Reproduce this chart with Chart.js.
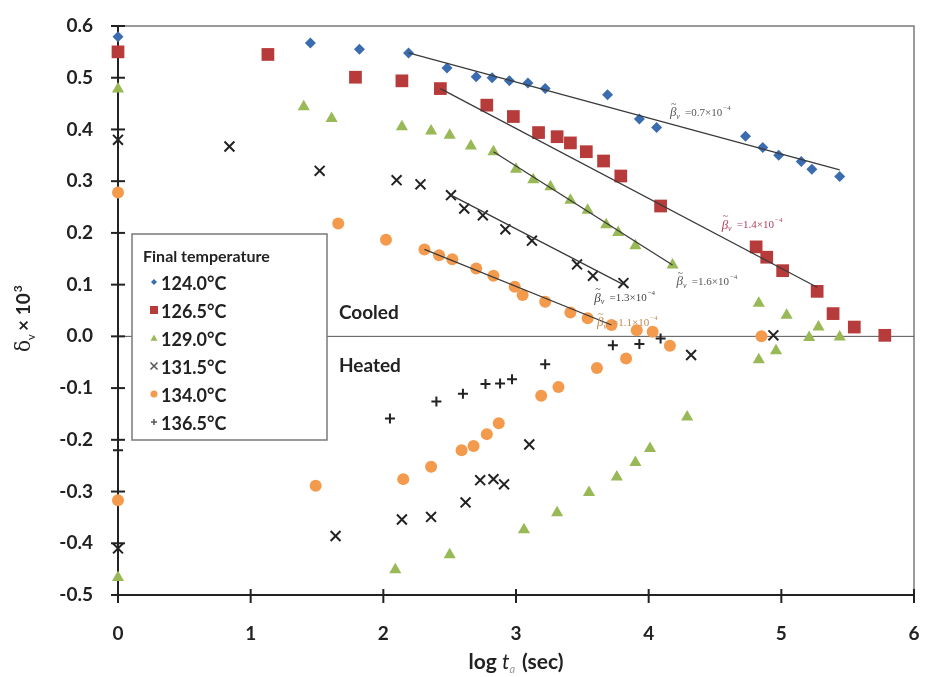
<!DOCTYPE html>
<html>
<head>
<meta charset="utf-8">
<script src="https://cdn.jsdelivr.net/npm/chart.js@4/dist/chart.umd.min.js"></script>
<style>
  body { margin: 0; background: #fff; }
</style>
</head>
<body>
<canvas id="chart" width="925" height="677"></canvas>
<script>
// data: log ta (x) and delta_v x 10^3 (y)
const x124 = [0, 1.45, 1.82, 2.19, 2.48, 2.70, 2.82, 2.95, 3.09, 3.22, 3.69, 3.93, 4.06, 4.73, 4.86, 4.98, 5.15, 5.23, 5.44];
const y124 = [0.579, 0.567, 0.555, 0.548, 0.519, 0.502, 0.500, 0.494, 0.490, 0.479, 0.467, 0.420, 0.404, 0.387, 0.365, 0.350, 0.338, 0.323, 0.309];

const x126 = [0, 1.13, 1.79, 2.14, 2.43, 2.78, 2.98, 3.17, 3.31, 3.41, 3.53, 3.66, 3.79, 4.09, 4.81, 4.89, 5.01, 5.27, 5.39, 5.55, 5.78];
const y126 = [0.550, 0.545, 0.501, 0.494, 0.479, 0.447, 0.425, 0.394, 0.386, 0.374, 0.357, 0.339, 0.310, 0.252, 0.173, 0.153, 0.127, 0.087, 0.044, 0.018, 0.002];

const x129 = [0, 1.40, 1.61, 2.14, 2.36, 2.50, 2.66, 2.83, 3.00, 3.13, 3.26, 3.41, 3.54, 3.68, 3.77, 3.90, 4.18, 4.83, 5.04, 5.28, 5.21, 5.44,
              0, 2.09, 2.50, 3.06, 3.31, 3.55, 3.76, 3.90, 4.01, 4.29, 4.83, 4.96];
const y129 = [0.478, 0.444, 0.421, 0.405, 0.397, 0.389, 0.368, 0.357, 0.323, 0.303, 0.289, 0.263, 0.244, 0.216, 0.201, 0.175, 0.138, 0.064, 0.041, 0.018, -0.002, -0.001,
              -0.466, -0.451, -0.422, -0.374, -0.341, -0.302, -0.272, -0.244, -0.217, -0.156, -0.045, -0.028];

const x131 = [0, 0.84, 1.52, 2.10, 2.28, 2.51, 2.61, 2.75, 2.92, 3.12, 3.46, 3.58, 3.81, 4.94,
              0, 1.64, 2.14, 2.36, 2.62, 2.73, 2.83, 2.91, 3.10, 4.32];
const y131 = [0.380, 0.367, 0.320, 0.302, 0.294, 0.273, 0.247, 0.234, 0.207, 0.185, 0.139, 0.117, 0.103, 0.002,
              -0.410, -0.386, -0.354, -0.349, -0.321, -0.278, -0.276, -0.286, -0.209, -0.036];

const x134 = [0, 1.66, 2.02, 2.31, 2.42, 2.52, 2.70, 2.83, 2.99, 3.05, 3.22, 3.41, 3.54, 3.72, 3.91, 4.03, 4.85,
              0, 1.49, 2.15, 2.36, 2.59, 2.68, 2.78, 2.87, 3.19, 3.32, 3.61, 3.83, 4.16];
const y134 = [0.278, 0.218, 0.187, 0.168, 0.157, 0.149, 0.131, 0.117, 0.096, 0.080, 0.067, 0.046, 0.035, 0.022, 0.012, 0.009, 0.000,
              -0.317, -0.289, -0.276, -0.252, -0.220, -0.212, -0.189, -0.168, -0.115, -0.098, -0.061, -0.043, -0.018];

const x136 = [0, 2.05, 2.40, 2.60, 2.77, 2.88, 2.97, 3.22, 3.73, 3.93, 4.09];
const y136 = [-0.220, -0.159, -0.126, -0.111, -0.092, -0.091, -0.083, -0.054, -0.017, -0.015, -0.004];

// fitted lines (end points)
const fitX124 = [2.19, 5.44], fitY124 = [0.548, 0.322];
const fitX126 = [2.43, 5.27], fitY126 = [0.479, 0.095];
const fitX129 = [2.83, 4.18], fitY129 = [0.357, 0.138];
const fitX131 = [2.51, 3.81], fitY131 = [0.273, 0.100];
const fitX134 = [2.31, 3.72], fitY134 = [0.168, 0.022];

const seriesLabels = ['124.0°C', '126.5°C', '129.0°C', '131.5°C', '134.0°C', '136.5°C'];
const slopeTexts = ['0.7', '1.4', '1.6', '1.3', '1.1'];
const slopeX = [4.16, 4.55, 4.21, 3.59, 3.61];
const slopeY = [0.432, 0.215, 0.105, 0.074, 0.026];

const xTicks = [0, 1, 2, 3, 4, 5, 6];
const yTicks = [0.6, 0.5, 0.4, 0.3, 0.2, 0.1, 0, -0.1, -0.2, -0.3, -0.4, -0.5];

const colors = ['#3b6cb0', '#b83b3b', '#98b955', '#222222', '#f39a4c', '#222222'];
const styles = ['rectRot', 'rect', 'triangle', 'crossRot', 'circle', 'cross'];
const radii = [5.5, 9, 7, 7, 6, 5];
const FONT = 'Lato, "Open Sans", sans-serif';

function pts(xs, ys) {
  return xs.map((x, i) => ({ x: x, y: ys[i] }));
}

const pointSets = [[x124, y124], [x126, y126], [x129, y129], [x131, y131], [x134, y134], [x136, y136]];
const fitSets = [[fitX124, fitY124], [fitX126, fitY126], [fitX129, fitY129], [fitX131, fitY131], [fitX134, fitY134]];

const datasets = [];
fitSets.forEach(f => {
  datasets.push({
    type: 'line',
    data: pts(f[0], f[1]),
    borderColor: '#3a3a3a',
    borderWidth: 1.3,
    pointRadius: 0,
    fill: false
  });
});
pointSets.forEach((s, i) => {
  const isLine = styles[i] === 'crossRot' || styles[i] === 'cross';
  datasets.push({
    label: seriesLabels[i],
    data: pts(s[0], s[1]),
    pointStyle: styles[i],
    pointRadius: radii[i],
    backgroundColor: colors[i],
    borderColor: colors[i],
    borderWidth: isLine ? 2 : 0,
    showLine: false,
    clip: false
  });
});

function drawMarker(ctx, style, x, y, r, color) {
  ctx.save();
  ctx.fillStyle = color;
  ctx.strokeStyle = color;
  ctx.lineWidth = 1.5;
  ctx.beginPath();
  if (style === 'rectRot') {
    ctx.moveTo(x, y - r); ctx.lineTo(x + r, y); ctx.lineTo(x, y + r); ctx.lineTo(x - r, y); ctx.closePath(); ctx.fill();
  } else if (style === 'rect') {
    ctx.rect(x - r, y - r, 2 * r, 2 * r); ctx.fill();
  } else if (style === 'triangle') {
    ctx.moveTo(x, y - r); ctx.lineTo(x + r, y + r * 0.8); ctx.lineTo(x - r, y + r * 0.8); ctx.closePath(); ctx.fill();
  } else if (style === 'crossRot') {
    ctx.moveTo(x - r, y - r); ctx.lineTo(x + r, y + r); ctx.moveTo(x + r, y - r); ctx.lineTo(x - r, y + r); ctx.stroke();
  } else if (style === 'circle') {
    ctx.arc(x, y, r, 0, Math.PI * 2); ctx.fill();
  } else {
    ctx.moveTo(x - r, y); ctx.lineTo(x + r, y); ctx.moveTo(x, y - r); ctx.lineTo(x, y + r); ctx.stroke();
  }
  ctx.restore();
}

const decorPlugin = {
  id: 'decor',
  beforeDatasetsDraw(chart) {
    const { ctx, chartArea: a, scales } = chart;
    const y0 = scales.y.getPixelForValue(0);
    ctx.save();
    // frame top/right
    ctx.strokeStyle = '#7a7a7a';
    ctx.lineWidth = 1.5;
    ctx.beginPath();
    ctx.moveTo(a.left, a.top); ctx.lineTo(a.right, a.top); ctx.lineTo(a.right, a.bottom);
    ctx.stroke();
    // zero line
    ctx.strokeStyle = '#555';
    ctx.lineWidth = 1;
    ctx.beginPath();
    ctx.moveTo(a.left, y0); ctx.lineTo(a.right, y0);
    ctx.stroke();
    ctx.restore();
  },
  afterDatasetsDraw(chart) {
    const { ctx, chartArea: a, scales } = chart;
    const xs = scales.x, ys = scales.y;
    ctx.save();

    // axis ticks crossing the axes
    ctx.strokeStyle = '#222';
    ctx.lineWidth = 2;
    yTicks.forEach(v => {
      const py = ys.getPixelForValue(v);
      ctx.beginPath(); ctx.moveTo(a.left - 7, py); ctx.lineTo(a.left + 7, py); ctx.stroke();
    });
    xTicks.forEach(v => {
      const px = xs.getPixelForValue(v);
      ctx.beginPath(); ctx.moveTo(px, a.bottom - 6); ctx.lineTo(px, a.bottom + 8); ctx.stroke();
    });

    // slope annotations
    const slopeColors = ['#555', '#b0405a', '#555', '#444', '#c08a50'];
    slopeTexts.forEach((t, i) => {
      let px = xs.getPixelForValue(slopeX[i]);
      const py = ys.getPixelForValue(slopeY[i]);
      ctx.fillStyle = slopeColors[i];
      ctx.textBaseline = 'middle';
      ctx.font = 'italic 13px "Liberation Serif", serif';
      ctx.fillText('\u03B2', px, py);
      ctx.font = '10px "Liberation Serif", serif';
      ctx.fillText('~', px + 1, py - 9);
      ctx.font = 'italic 13px "Liberation Serif", serif';
      px += ctx.measureText('\u03B2').width;
      ctx.font = 'italic 8px "Liberation Serif", serif';
      ctx.fillText('v', px, py + 4);
      px += 6;
      ctx.font = '11px "Liberation Serif", serif';
      const main = ' =' + t + '\u00D710';
      ctx.fillText(main, px, py);
      px += ctx.measureText(main).width;
      ctx.font = '7px "Liberation Serif", serif';
      ctx.fillText('\u22124', px + 1, py - 5);
    });

    // Cooled / Heated
    ctx.fillStyle = '#222';
    ctx.font = 'bold 19px ' + FONT;
    ctx.textBaseline = 'middle';
    ctx.fillText('Cooled', xs.getPixelForValue(1.665), ys.getPixelForValue(0.046));
    ctx.fillText('Heated', xs.getPixelForValue(1.665), ys.getPixelForValue(-0.058));

    // legend box
    const lx = 132, ly = 234, lw = 195, lh = 206;
    ctx.fillStyle = '#fff';
    ctx.fillRect(lx, ly, lw, lh);
    ctx.strokeStyle = '#7a7a7a';
    ctx.lineWidth = 1.5;
    ctx.strokeRect(lx, ly, lw, lh);
    ctx.fillStyle = '#222';
    ctx.font = 'bold 16px ' + FONT;
    ctx.fillText('Final temperature', lx + 11, ly + 23);
    const legR = [3, 4, 3.5, 3.5, 3.5, 3];
    seriesLabels.forEach((lab, i) => {
      const cy = ly + 50 + i * 28;
      drawMarker(ctx, styles[i], lx + 22, cy - 2, legR[i], colors[i] === '#222222' ? '#555' : colors[i]);
      ctx.fillStyle = '#222';
      ctx.font = 'bold 18px ' + FONT;
      ctx.fillText(lab, lx + 29, cy);
    });

    // x axis title, centred under x = 3
    ctx.textBaseline = 'alphabetic';
    const ty = 669;
    const parts = [
      ['log ', 'bold 21px ' + FONT, '#222', 0, 0],
      ['t', 'italic 21px ' + FONT, '#222', 0, 0],
      ['a', 'italic 11px ' + FONT, '#999', 4, 2],
      [' (sec)', 'bold 21px ' + FONT, '#222', 0, 0]
    ];
    let total = 0;
    parts.forEach(p => { ctx.font = p[1]; total += ctx.measureText(p[0]).width + p[4]; });
    let tx = xs.getPixelForValue(3) - total / 2;
    parts.forEach(p => {
      ctx.font = p[1];
      ctx.fillStyle = p[2];
      ctx.fillText(p[0], tx, ty + p[3]);
      tx += ctx.measureText(p[0]).width + p[4];
    });

    // y axis title
    ctx.fillStyle = '#222';
    ctx.translate(30, 352);
    ctx.rotate(-Math.PI / 2);
    ctx.font = '20px "DejaVu Serif", serif';
    let sx = 0;
    ctx.fillText('\u03B4', sx, 0);
    sx += ctx.measureText('\u03B4').width;
    ctx.font = '11px ' + FONT;
    ctx.fillText('v', sx, 5);
    sx += 9;
    ctx.font = 'bold 19px ' + FONT;
    ctx.fillText('\u00D7 10', sx, 0);
    sx += ctx.measureText('\u00D7 10').width;
    ctx.font = 'bold 12px ' + FONT;
    ctx.fillText('3', sx + 1, -8);

    ctx.restore();
  }
};

new Chart(document.getElementById('chart'), {
  type: 'scatter',
  data: { datasets: datasets },
  options: {
    responsive: false,
    animation: false,
    layout: { padding: { top: 26, right: 11, left: 0, bottom: 0 } },
    plugins: {
      legend: { display: false },
      tooltip: { enabled: false }
    },
    scales: {
      x: {
        type: 'linear',
        min: 0,
        max: 6,
        afterBuildTicks: s => { s.ticks = xTicks.map(v => ({ value: v })); },
        afterFit: s => { s.height = 82; },
        ticks: { color: '#222', font: { family: FONT, size: 19, weight: 'bold' }, padding: 0 },
        grid: { display: true, drawOnChartArea: false, drawTicks: true, tickLength: 27, color: 'rgba(0,0,0,0)' },
        border: { display: true, color: '#222', width: 2 }
      },
      y: {
        type: 'linear',
        min: -0.5,
        max: 0.6,
        afterBuildTicks: s => { s.ticks = yTicks.map(v => ({ value: v })); },
        afterFit: s => { s.width = 118; },
        ticks: {
          color: '#222',
          font: { family: FONT, size: 19, weight: 'bold' },
          padding: 0,
          callback: v => v.toFixed(1)
        },
        grid: { display: true, drawOnChartArea: false, drawTicks: true, tickLength: 25, color: 'rgba(0,0,0,0)' },
        border: { display: true, color: '#222', width: 2 }
      }
    }
  },
  plugins: [decorPlugin]
});
</script>
</body>
</html>
